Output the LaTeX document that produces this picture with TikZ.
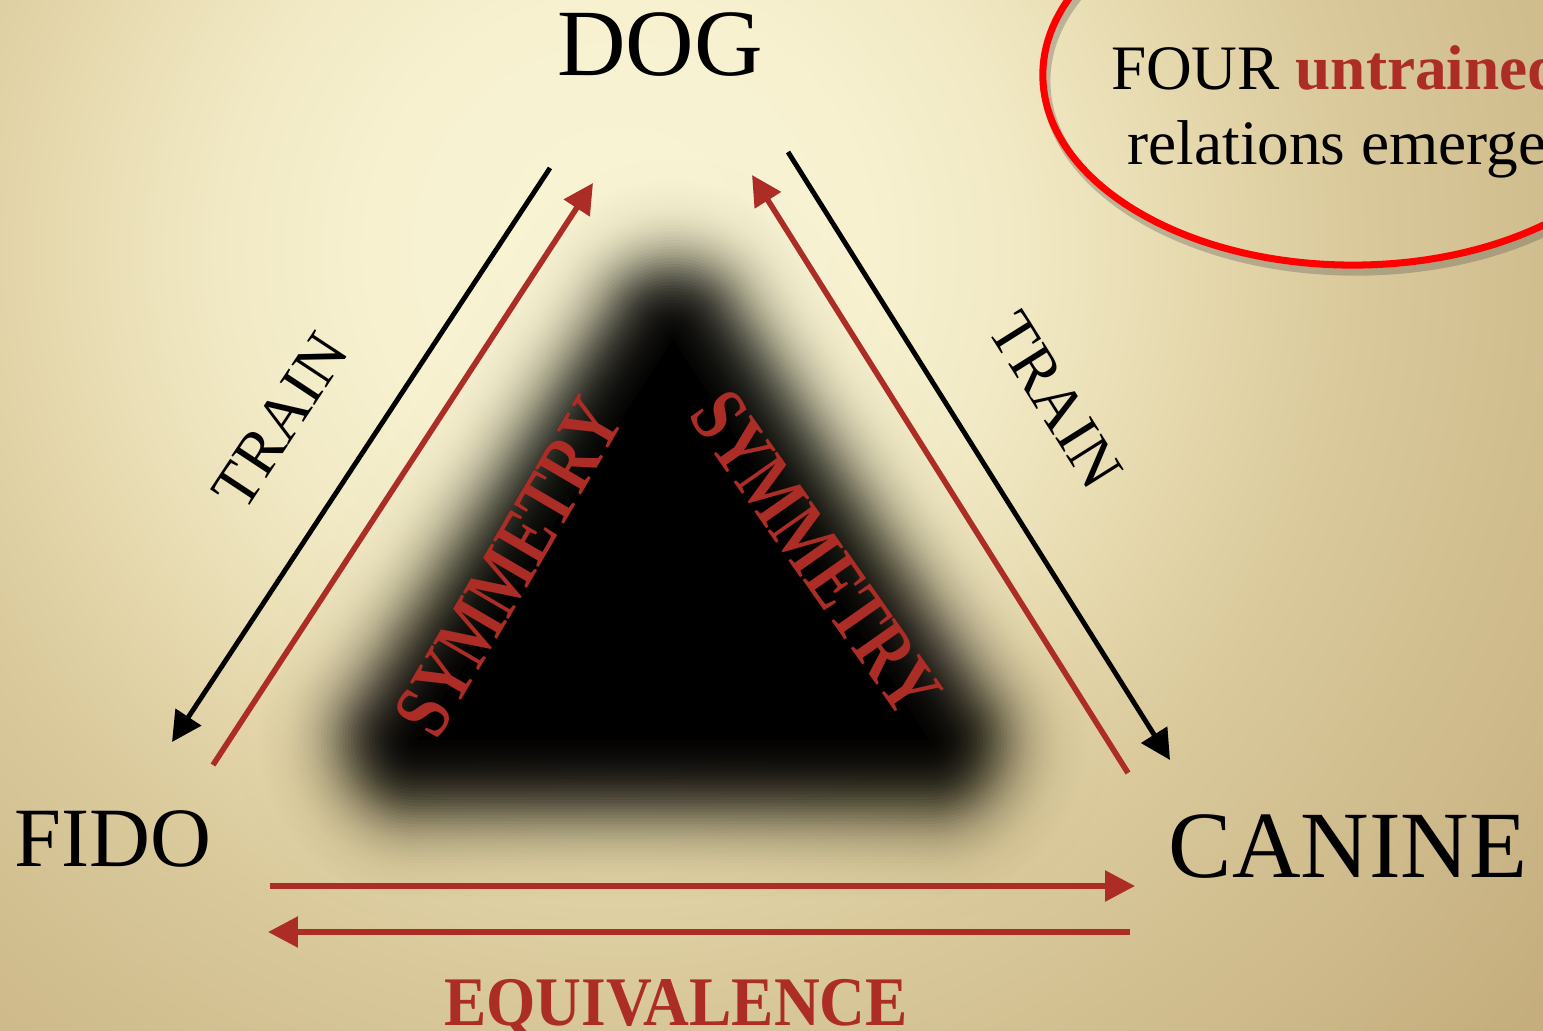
\documentclass[tikz,border=0pt]{standalone}
\usepackage{fontspec}
\setmainfont{Liberation Serif}
\usepackage{graphicx}
\usetikzlibrary{arrows.meta,calc}
\definecolor{relRed}{RGB}{172,44,38}
\definecolor{ringRed}{RGB}{255,0,0}
\definecolor{bgA}{RGB}{248,244,212}
\definecolor{bgB}{RGB}{247,241,208}
\definecolor{bgC}{RGB}{241,233,196}
\definecolor{bgD}{RGB}{228,214,170}
\definecolor{bgE}{RGB}{217,201,155}
\definecolor{bgF}{RGB}{196,172,124}
\pgfdeclareradialshading{paper}{\pgfpoint{0bp}{0bp}}{color(0bp)=(bgA); color(3.9bp)=(bgB); color(6.3bp)=(bgC); color(9.4bp)=(bgD); color(11.5bp)=(bgE); color(19bp)=(bgF); color(50bp)=(bgF)}
\tikzset{
  bigword/.style={font=\fontsize{27}{32}\selectfont, inner sep=0pt},
  midword/.style={font=\fontsize{24}{28}\selectfont, inner sep=0pt},
  trainlbl/.style={font=\fontsize{18}{21}\selectfont, inner sep=0pt},
  symlbl/.style={font=\bfseries\fontsize{23}{27}\selectfont, text=relRed, inner sep=0pt},
  notetxt/.style={font=\fontsize{18}{21}\selectfont, inner sep=0pt},
  trainarr/.style={-{Triangle[length=8.5pt,width=8.5pt]}, line width=1.4pt, draw=black},
  relarr/.style={-{Triangle[length=8.5pt,width=8.5pt]}, line width=1.6pt, draw=relRed},
  haze/.style={draw=black, line join=round},
}

\begin{document}
\begin{tikzpicture}[x=0.01cm, y=-0.01cm]
  \useasboundingbox (0,0) rectangle (1543,1031);
  % paper background
  \begin{scope}
    \clip (0,0) rectangle (1543,1031);
    \shade[shading=paper] (-980,-1350) rectangle (2220,1850);
  \end{scope}

  % blurred dark triangle
  \coordinate (tA) at (673,339);
  \coordinate (tB) at (417,740);
  \coordinate (tC) at (929,740);
  \foreach \d [remember=\d as \dp (initially 160)] in {110,107,...,-67} {
    \pgfmathsetmacro\al{1-(1+exp(-\dp/21))/(1+exp(-\d/21))}
    \pgfmathsetmacro\lw{(\d+70)*0.02}
    \draw[haze, opacity=\al, line width=\lw cm] (tA) -- (tB) -- (tC) -- cycle;
  }
  \fill[black] (tA) -- (tB) -- (tC) -- cycle;

  % corner words
  \node[bigword, anchor=base] (dog) at (660,76) {DOG};
  \node[midword, anchor=base west] (fido) at (14,866) {FIDO};
  \node[bigword, anchor=base west] (canine) at (1168,877) {CANINE};

  % trained relations
  \coordinate (tl1) at (550,168);
  \coordinate (tl2) at (172,742);
  \coordinate (tr1) at (788,152);
  \coordinate (tr2) at (1170,760);
  \draw[trainarr] (tl1) -- (tl2);
  \draw[trainarr] (tr1) -- (tr2);
  \node[trainlbl, rotate=56.6] (trainL) at (280,421) {TRAIN};
  \node[trainlbl, rotate=-57.8] (trainR) at (1056,400) {TRAIN};

  % derived relations
  \coordinate (sl1) at (213,765);
  \coordinate (sl2) at (593,183);
  \coordinate (sr1) at (1128,773);
  \coordinate (sr2) at (752,175);
  \draw[relarr] (sl1) -- (sl2);
  \draw[relarr] (sr1) -- (sr2);
  \node[symlbl, rotate=59.7] (symL) at (509,567) {\scalebox{0.78}[1]{SYMMETRY}};
  \node[symlbl, rotate=-55] (symR) at (816,553) {\scalebox{0.78}[1]{SYMMETRY}};

  \coordinate (eq1) at (270,886);
  \coordinate (eq2) at (1135,886);
  \coordinate (eq3) at (1130,932);
  \coordinate (eq4) at (268,932);
  \draw[relarr] (eq1) -- (eq2);
  \draw[relarr] (eq3) -- (eq4);
  \node[symlbl, font=\bfseries\fontsize{19.8}{24}\selectfont, anchor=base] (equiv) at (676,1025) {\scalebox{0.91}[1]{EQUIVALENCE}};

  % callout
  \draw[line width=2.6pt, black!70, opacity=0.3, shift={(3,6)}] (1353,75) ellipse [x radius=3.1cm, y radius=1.9cm];
  \draw[line width=2pt, ringRed] (1353,75) ellipse [x radius=3.1cm, y radius=1.9cm];
  \node[notetxt, anchor=base] (four) at (1337,90) {FOUR \textcolor{relRed}{\bfseries untrained}};
  \node[notetxt, anchor=base] (emerge) at (1337,165) {relations emerge};
\end{tikzpicture}
\end{document}
